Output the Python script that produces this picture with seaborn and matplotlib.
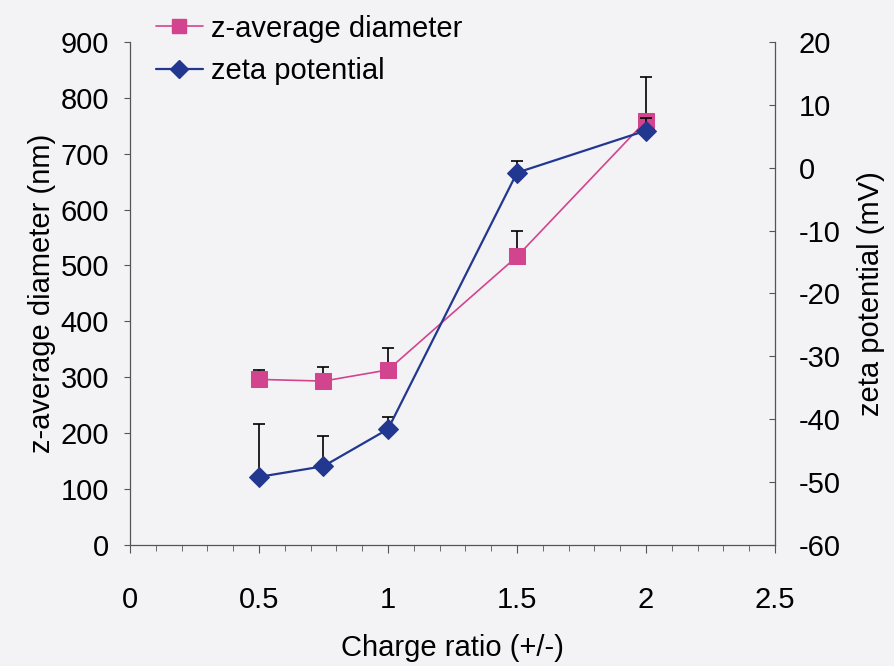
import matplotlib
matplotlib.use("Agg")
import matplotlib.pyplot as plt
import numpy as np
import pandas as pd
import seaborn as sns
from matplotlib.lines import Line2D
from matplotlib.ticker import MultipleLocator

charge_ratio = [0.5, 0.75, 1.0, 1.5, 2.0]
z_average = [296, 293, 313, 516, 759]
z_average_err = [16, 25, 39, 45, 79]
zeta = [-49.2, -47.5, -41.6, -0.8, 5.9]
zeta_err = [8.4, 4.8, 1.9, 1.8, 2.0]

pink = "#d3448f"
blue = "#22378f"
bg = "#f3f3f6"
axis_grey = "#555555"

sns.set_style("ticks")
plt.rcParams["font.family"] = ["Liberation Sans", "DejaVu Sans"]
plt.rcParams["axes.unicode_minus"] = False
plt.rcParams["text.color"] = "black"
plt.rcParams["axes.labelcolor"] = "black"
plt.rcParams["xtick.color"] = "black"
plt.rcParams["ytick.color"] = "black"

df = pd.DataFrame(
    {"ratio": charge_ratio, "z": z_average, "z_err": z_average_err, "zeta": zeta, "zeta_err": zeta_err}
)

fig = plt.figure(figsize=(8.94, 6.66), dpi=100)
fig.patch.set_facecolor(bg)
ax = fig.add_axes([0.1454, 0.182, 0.7215, 0.755])
ax.set_facecolor(bg)
ax2 = ax.twinx()

# error bars (upper only)
ax.errorbar(df["ratio"], df["z"], yerr=[np.zeros(len(df)), df["z_err"]], fmt="none",
            ecolor="black", elinewidth=1.2, capsize=4, capthick=1.2, zorder=2)
ax2.errorbar(df["ratio"], df["zeta"], yerr=[np.zeros(len(df)), df["zeta_err"]], fmt="none",
             ecolor="black", elinewidth=1.2, capsize=4, capthick=1.2, zorder=2)

sns.lineplot(data=df, x="ratio", y="z", ax=ax, color=pink, marker="s", markersize=11,
             markeredgecolor=pink, linewidth=1.2, zorder=3)
sns.lineplot(data=df, x="ratio", y="zeta", ax=ax2, color=blue, marker="D", markersize=10,
             markeredgecolor=blue, linewidth=1.6, zorder=3)

ax.set_xlim(0, 2.5)
ax.set_ylim(0, 900)
ax2.set_ylim(-60, 20)
ax.xaxis.set_major_locator(MultipleLocator(0.5))
ax.xaxis.set_minor_locator(MultipleLocator(0.1))
ax.yaxis.set_major_locator(MultipleLocator(100))
ax2.yaxis.set_major_locator(MultipleLocator(10))
ax.set_xticks([0, 0.5, 1, 1.5, 2, 2.5])
ax.set_xticklabels(["0", "0.5", "1", "1.5", "2", "2.5"])

for a in (ax, ax2):
    a.spines["top"].set_visible(False)
    for s in a.spines.values():
        s.set_color(axis_grey)
        s.set_linewidth(0.9)
ax.spines["right"].set_visible(False)
ax2.spines["left"].set_visible(False)
ax2.spines["bottom"].set_visible(False)

ax.tick_params(axis="x", which="major", labelsize=21, length=6, color=axis_grey, pad=24)
ax.tick_params(axis="x", which="minor", length=4, color=axis_grey)
ax.tick_params(axis="y", which="major", labelsize=21, length=4, color=axis_grey, pad=11)
ax2.tick_params(axis="y", which="major", labelsize=21, length=4, direction="in",
                color=axis_grey, pad=17)

ax.set_xlabel("Charge ratio (+/-)", fontsize=21, labelpad=14)
ax.set_ylabel("z-average diameter (nm)", fontsize=21, labelpad=3)
ax2.set_ylabel("zeta potential (mV)", fontsize=21, labelpad=12)

handles = [
    Line2D([], [], color=pink, marker="s", markersize=10, linewidth=1.2),
    Line2D([], [], color=blue, marker="D", markersize=9, linewidth=1.6),
]
fig.legend(handles, ["z-average diameter", "zeta potential"], loc="upper left",
           bbox_to_anchor=(0.158, 1.0), frameon=False, fontsize=21, handlelength=1.6,
           handletextpad=0.3, labelspacing=0.5, borderaxespad=0.1)

fig.savefig("out.png", dpi=100, facecolor=bg)
